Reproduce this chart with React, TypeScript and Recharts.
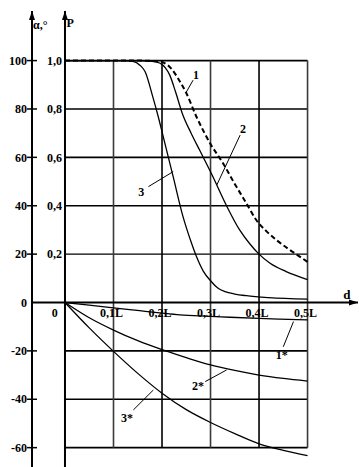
import React from 'react';
import { ComposedChart, Line, XAxis, YAxis, ReferenceLine, ReferenceDot } from 'recharts';

// ---- data ----
// curve 1 (dashed), P
const d1 = [0, 0.15, 0.19, 0.205, 0.22, 0.235, 0.25, 0.271, 0.3, 0.326, 0.35, 0.374, 0.394, 0.415, 0.436, 0.46, 0.48, 0.5];
const p1 = [1, 1, 0.998, 0.99, 0.965, 0.92, 0.866, 0.768, 0.655, 0.575, 0.49, 0.41, 0.342, 0.295, 0.258, 0.222, 0.195, 0.168];
// curve 2, P
const d2 = [0, 0.15, 0.18, 0.195, 0.207, 0.216, 0.228, 0.243, 0.26, 0.278, 0.302, 0.333, 0.36, 0.38, 0.4, 0.422, 0.456, 0.5];
const p2 = [1, 1, 0.997, 0.99, 0.97, 0.94, 0.87, 0.775, 0.7, 0.628, 0.532, 0.4, 0.3, 0.245, 0.2, 0.163, 0.128, 0.095];
// curve 3, P
const d3 = [0, 0.12, 0.14, 0.155, 0.165, 0.181, 0.192, 0.202, 0.223, 0.243, 0.26, 0.271, 0.285, 0.3, 0.315, 0.33, 0.35, 0.374, 0.42, 0.5];
const p3 = [1, 1, 0.997, 0.98, 0.955, 0.85, 0.77, 0.69, 0.52, 0.357, 0.25, 0.19, 0.13, 0.09, 0.06, 0.045, 0.035, 0.028, 0.02, 0.014];
// curves 1*, 2*, 3*, alpha degrees
const d1s = [0, 0.05, 0.1, 0.154, 0.2, 0.237, 0.3, 0.34, 0.4, 0.443, 0.5];
const a1s = [0, -1.1, -2.2, -3.4, -4.4, -5.1, -5.7, -6.1, -6.6, -6.9, -7.2];
const dS = [0, 0.05, 0.1, 0.15, 0.2, 0.25, 0.3, 0.35, 0.4, 0.45, 0.5];
const a2s = [0, -6.3, -11.4, -15.8, -19.5, -22.8, -25.8, -28.1, -30.0, -31.4, -32.5];
const a3s = [0, -10.5, -20.2, -29.3, -37.5, -44.3, -49.6, -54.2, -58.4, -61.1, -63.3];

// axes / ticks
const alphaTicks = [100, 80, 60, 40, 20, 0, -20, -40, -60];
const pTickLabels = ['1,0', '0,8', '0,6', '0,4', '0,2', '', '', '', ''];
const gridAlpha = [100, 80, 60, 40, 20, -20, -40, -60];
const gridD = [0.1, 0.2, 0.3, 0.4, 0.5];
const xTickValues = [0, 0.1, 0.2, 0.3, 0.4, 0.5];
const xTickLabels = ['0', '0,1L', '0,2L', '0,3L', '0,4L', '0,5L'];

// curve annotations
const curveNames = ['1', '2', '3', '1*', '2*', '3*'];
const nameD = [0.27, 0.367, 0.157, 0.447, 0.274, 0.128];
const nameA = [94.0, 71.7, 45.7, -21.7, -34.5, -47.7];
const leaderFrom = [[0.264, 91.9], [0.361, 69.2], [0.172, 47.9], [0.45, -18.3], [0.289, -32.7], [0.141, -44.4]];
const leaderTo = [[0.249, 86.6], [0.313, 48.6], [0.223, 54.1], [0.471, -7.9], [0.333, -27.9], [0.182, -36.2]];

const X_MIN = -0.068;
const X_MAX = 0.604;
const Y_MIN = -68;
const Y_MAX = 120.5;

const rowsP = (d: number[], p: number[]) => d.map((x, i) => ({ d: x, v: p[i] * 100 }));
const rowsA = (d: number[], a: number[]) => d.map((x, i) => ({ d: x, v: a[i] }));

const FONT = 'Liberation Serif, Times New Roman, serif';
const FS = 12;

const AlphaTick = (props: any) => {
  const { x, y, payload } = props;
  const i = alphaTicks.indexOf(payload.value);
  const p = pTickLabels[i];
  return (
    <g>
      {payload.value !== 0 && <line x1={x - 5} x2={x + 5} y1={y} y2={y} stroke="#000" strokeWidth={1.5} />}
      <text x={x - 5} y={y} dy="0.35em" textAnchor="end" fontFamily={FONT} fontWeight="bold" fontSize={FS} fill="#000">
        {String(payload.value)}
      </text>
      {p && (
        <text x={x + 30} y={y} dy="0.35em" textAnchor="end" fontFamily={FONT} fontWeight="bold" fontSize={FS} fill="#000">
          {p}
        </text>
      )}
    </g>
  );
};

const textShape = (label: string, anchor: string, size = FS) => (props: any) => (
  <text x={props.cx} y={props.cy} dy="0.35em" textAnchor={anchor} fontFamily={FONT} fontWeight="bold" fontSize={size} fill="#000">
    {label}
  </text>
);

const arrowUp = (props: any) => (
  <polygon points={`${props.cx},${props.cy} ${props.cx - 3},${props.cy + 9} ${props.cx + 3},${props.cy + 9}`} fill="#000" />
);
const arrowRight = (props: any) => (
  <polygon points={`${props.cx},${props.cy} ${props.cx - 9},${props.cy - 3} ${props.cx - 9},${props.cy + 3}`} fill="#000" />
);

export default function App() {
  return (
    <div style={{ position: 'absolute', left: 0, top: 0, width: 359, height: 467, background: '#fff' }}>
      <ComposedChart width={359} height={467} margin={{ top: 11, right: 1, bottom: 0, left: 0 }}>
        <XAxis dataKey="d" type="number" domain={[X_MIN, X_MAX]} allowDataOverflow hide height={0} />
        <YAxis
          type="number"
          domain={[Y_MIN, Y_MAX]}
          allowDataOverflow
          width={32}
          ticks={alphaTicks}
          interval={0}
          tickSize={0}
          tickMargin={0}
          tickLine={false}
          axisLine={{ stroke: '#000', strokeWidth: 2 }}
          tick={<AlphaTick />}
        />
        {gridAlpha.map((a) => (
          <ReferenceLine key={'h' + a} segment={[{ x: 0, y: a }, { x: 0.5, y: a }]} stroke="#000" strokeWidth={a === 20 ? 1.2 : 1.6} />
        ))}
        {gridD.map((d, i) => (
          <ReferenceLine key={'v' + d} segment={[{ x: d, y: -60 }, { x: d, y: 100 }]} stroke={i % 2 === 0 ? '#3a3a3a' : '#000'} strokeWidth={1.6} />
        ))}
        <ReferenceLine x={0} stroke="#000" strokeWidth={2} />
        <ReferenceLine y={0} stroke="#000" strokeWidth={2} />
        <ReferenceDot x={0} y={Y_MAX} r={0} ifOverflow="visible" shape={arrowUp} />
        <ReferenceDot x={X_MIN} y={Y_MAX} r={0} ifOverflow="visible" shape={arrowUp} />
        <ReferenceDot x={X_MAX} y={0} r={0} ifOverflow="visible" shape={arrowRight} />

        {xTickValues.map((d, i) => (
          <ReferenceDot
            key={'xt' + i}
            x={i === 0 ? d - 0.021 : d - 0.004}
            y={-4.3}
            r={0}
            ifOverflow="visible"
            shape={textShape(xTickLabels[i], 'middle')}
          />
        ))}
        <ReferenceDot x={0.581} y={3.3} r={0} ifOverflow="visible" shape={textShape('d', 'middle', 13)} />
        <ReferenceDot x={-0.066} y={115} r={0} ifOverflow="visible" shape={textShape('α,°', 'start', 12)} />
        <ReferenceDot x={0.003} y={115.5} r={0} ifOverflow="visible" shape={textShape('P', 'start', 12)} />

        {leaderFrom.map((f, i) => (
          <ReferenceLine
            key={'ld' + i}
            segment={[{ x: f[0], y: f[1] }, { x: leaderTo[i][0], y: leaderTo[i][1] }]}
            stroke="#000"
            strokeWidth={1}
          />
        ))}
        {curveNames.map((n, i) => (
          <ReferenceDot key={'cn' + i} x={nameD[i]} y={nameA[i]} r={0} ifOverflow="visible" shape={textShape(n, 'middle', 12)} />
        ))}

        <Line data={rowsP(d1, p1)} dataKey="v" type="monotoneX" stroke="#000" strokeWidth={2} strokeDasharray="5 3" dot={false} isAnimationActive={false} />
        <Line data={rowsP(d2, p2)} dataKey="v" type="monotoneX" stroke="#000" strokeWidth={1.3} dot={false} isAnimationActive={false} />
        <Line data={rowsP(d3, p3)} dataKey="v" type="monotoneX" stroke="#000" strokeWidth={1.3} dot={false} isAnimationActive={false} />
        <Line data={rowsA(d1s, a1s)} dataKey="v" type="monotoneX" stroke="#000" strokeWidth={1.3} dot={false} isAnimationActive={false} />
        <Line data={rowsA(dS, a2s)} dataKey="v" type="monotoneX" stroke="#000" strokeWidth={1.3} dot={false} isAnimationActive={false} />
        <Line data={rowsA(dS, a3s)} dataKey="v" type="monotoneX" stroke="#000" strokeWidth={1.3} dot={false} isAnimationActive={false} />
      </ComposedChart>
    </div>
  );
}
